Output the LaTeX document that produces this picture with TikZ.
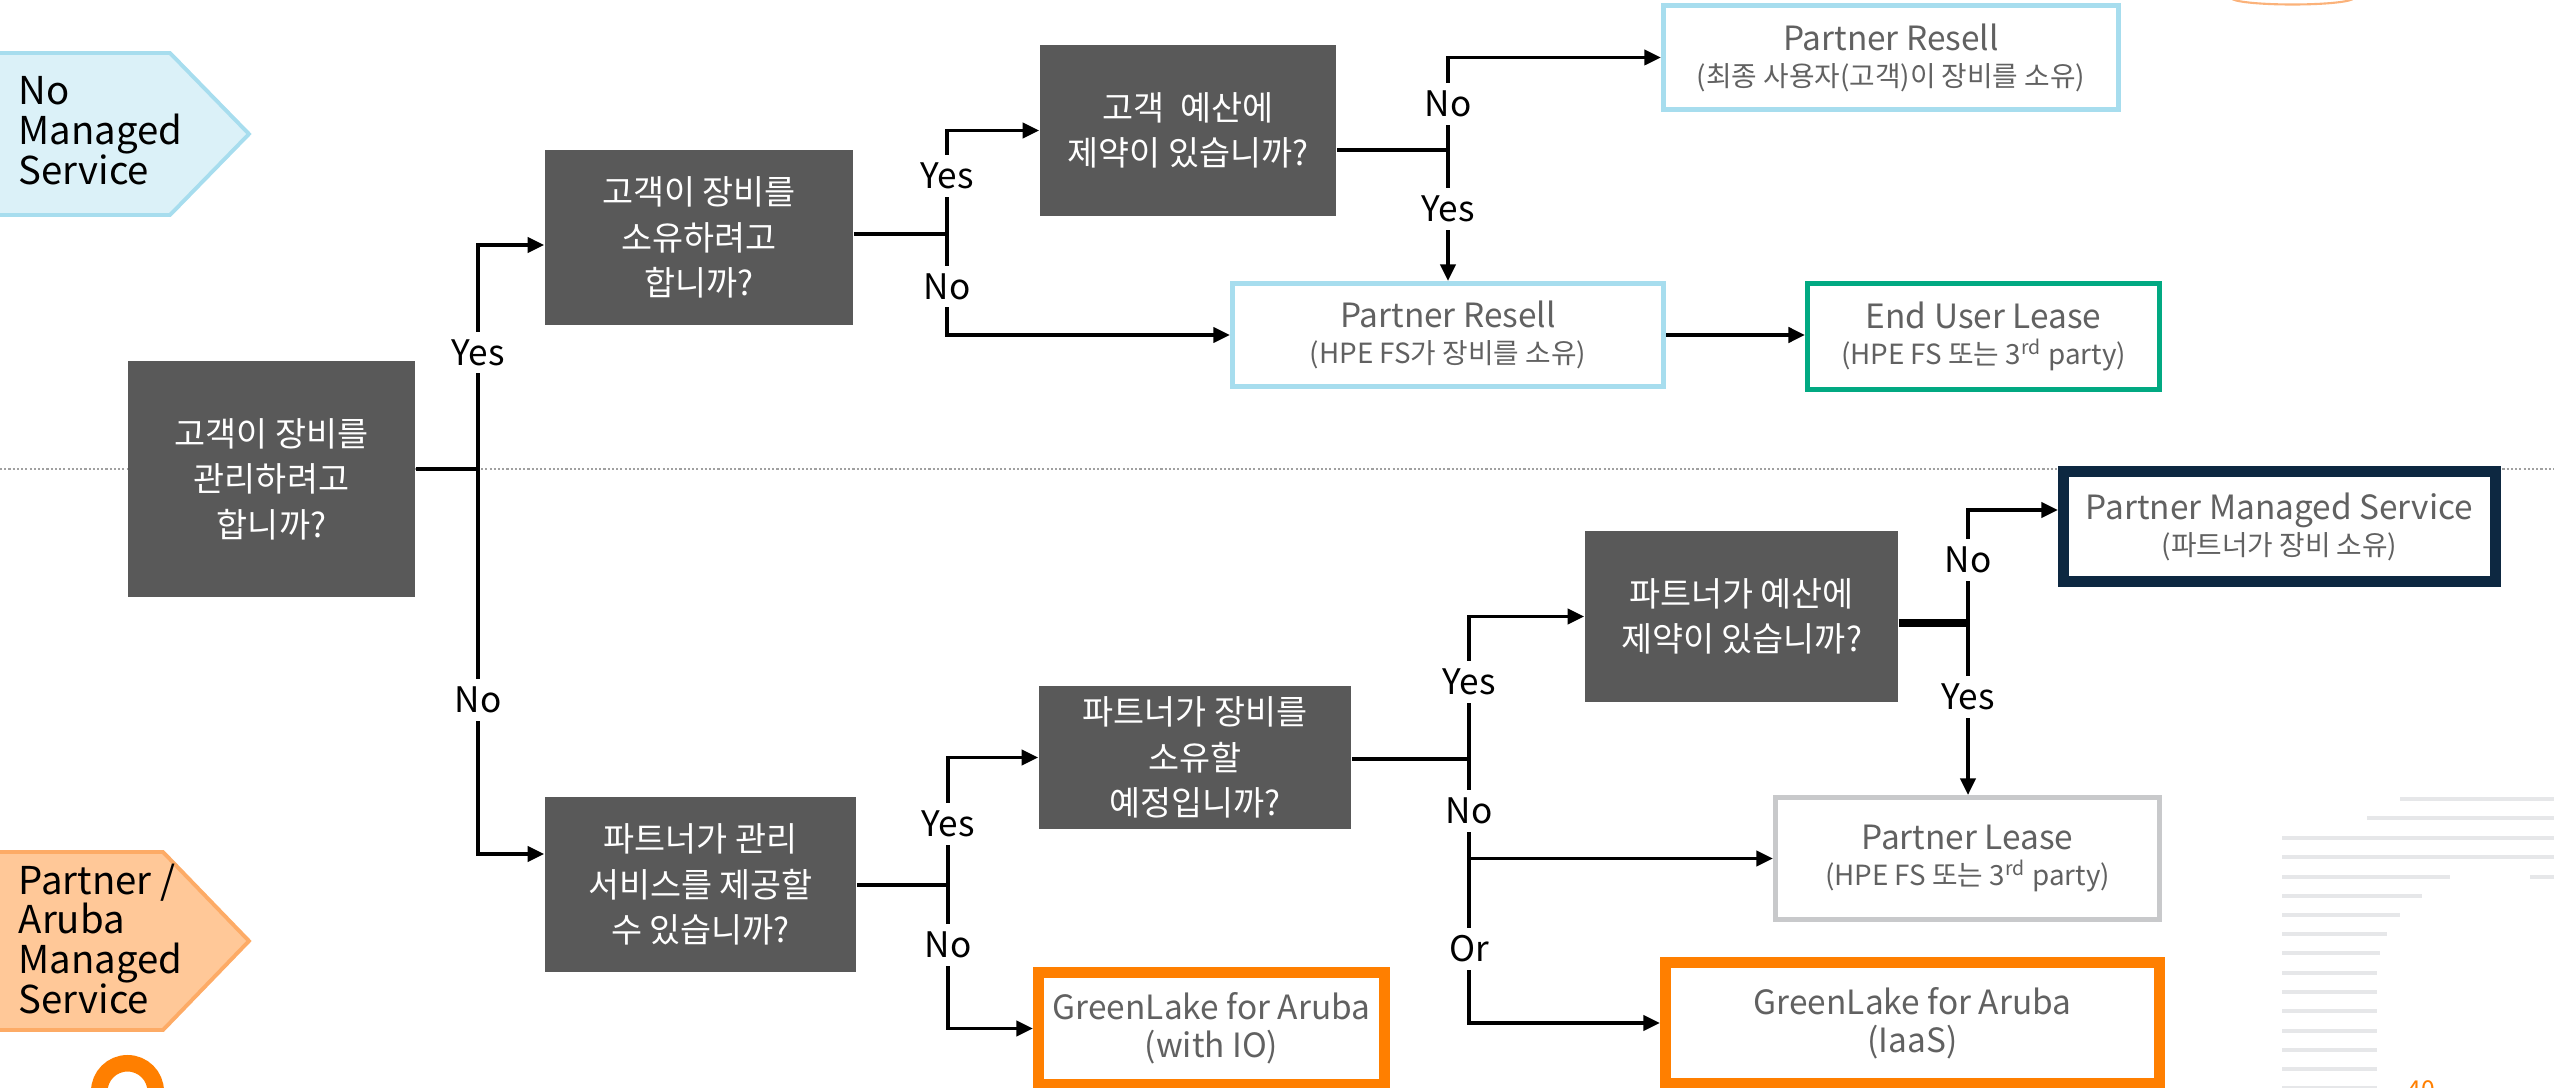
\documentclass[tikz,border=0pt]{standalone}
\usepackage{fontspec}
\setmainfont{Noto Sans CJK KR}
\usepackage{xcolor}
\usepackage{tikz}
\usetikzlibrary{arrows.meta,positioning}

\definecolor{qgray}{HTML}{595959}
\definecolor{resgray}{HTML}{616161}
\definecolor{skyline}{HTML}{A7DDEE}
\definecolor{skyfill}{HTML}{DBF1F8}
\definecolor{hpegreen}{HTML}{01A982}
\definecolor{hpenavy}{HTML}{0D2841}
\definecolor{lightline}{HTML}{C8C9CB}
\definecolor{hpeorange}{HTML}{FF7F00}
\definecolor{peachfill}{HTML}{FFC898}
\definecolor{peachline}{HTML}{FDAB66}
\definecolor{stripegray}{HTML}{E6E7E9}
\definecolor{dotgray}{HTML}{A0A0A0}
\definecolor{arcorange}{HTML}{FBB27A}

\newcommand{\subline}[1]{{\fontsize{7.9}{10.2}\selectfont #1}}
\newcommand{\tagfont}{\fontsize{10.9}{11.3}\selectfont\lineskiplimit=-6pt\relax}

\begin{document}
\begin{tikzpicture}[
    x=0.01cm, y=-0.01cm,
    question/.style={rectangle, fill=qgray, text=white, align=center, inner sep=0pt, font=\fontsize{9.6}{12.9}\selectfont},
    result/.style={rectangle, draw=#1, line width=1.56pt, fill=white, text=resgray, align=center, inner sep=0pt, font=\fontsize{9.5}{10.2}\selectfont},
    heavy/.style={line width=3.1pt, font=\fontsize{9.5}{10.8}\selectfont},
    answer/.style={fill=white, inner sep=2.2pt, font=\fontsize{10}{11}\selectfont},
    flow/.style={-{Triangle[length=4.7pt,width=4.3pt]}, line width=0.95pt},
    stem/.style={line width=1.35pt},
    tagtext/.style={anchor=north west, align=left, inner sep=0pt, font=\tagfont},
    stripe/.style={stripegray, line width=1.3pt}
]
    \useasboundingbox (0,0) rectangle (2554,1088);
    \clip (0,0) rectangle (2554,1088);

    \foreach \yy/\xa/\xb in {799/2400/2560, 818/2367/2560, 838/2282/2560, 857/2282/2560, 877/2282/2450, 877/2530/2560, 896/2282/2422, 915/2282/2400, 934/2282/2387, 953/2282/2380, 973/2282/2377, 992/2282/2377, 1011/2282/2377, 1031/2282/2377, 1050/2282/2377, 1069/2282/2377, 1088/2282/2377}
        \draw[stripe] (\xa,\yy) -- (\xb,\yy);
    \draw[hpeorange, line width=0.165cm] (127.5,1091.5) circle [radius=28.25];
    \draw[arcorange, line width=0.6pt] (2292.5,-2) ellipse [x radius=61, y radius=6.5];
    \node[anchor=base west, inner sep=0pt, text=hpeorange, font=\fontsize{7}{8}\selectfont] (pagenum) at (2407,1098) {40};

    \draw[dotgray, line width=0.6pt, dash pattern=on 0.6pt off 0.6pt] (0,469) -- (2554,469);

    \draw[fill=skyfill, draw=skyline, line width=1.1pt] (-5,53) -- (170,53) -- (249,134) -- (170,215) -- (-5,215) -- cycle;
    \node[tagtext] (tagnone) at (18,76) {No\\Managed\\Service};
    \draw[fill=peachfill, draw=peachline, line width=1.1pt] (-5,852) -- (163,852) -- (249,941) -- (163,1030) -- (-5,1030) -- cycle;
    \node[tagtext] (tagpartner) at (18,863) {Partner /\\Aruba\\Managed\\Service};

    \node[question, minimum width=2.87cm, minimum height=2.36cm] (q1) at (271.5,479) {고객이 장비를\\관리하려고\\합니까?};
    \node[question, minimum width=3.08cm, minimum height=1.75cm] (q2) at (699,237.5) {고객이 장비를\\소유하려고\\합니까?};
    \node[question, minimum width=2.96cm, minimum height=1.71cm] (q3) at (1188,130.5) {고객\ \ 예산에\\제약이 있습니까?};
    \node[question, minimum width=3.11cm, minimum height=1.75cm] (q4) at (700.5,884.5) {파트너가 관리\\서비스를 제공할\\수 있습니까?};
    \node[question, minimum width=3.12cm, minimum height=1.43cm] (q5) at (1195,757.5) {파트너가 장비를\\소유할\\예정입니까?};
    \node[question, minimum width=3.13cm, minimum height=1.71cm] (q6) at (1741.5,616.5) {파트너가 예산에\\제약이 있습니까?};

    \node[result=skyline, minimum width=4.545cm, minimum height=1.035cm] (r1) at (1891,57.5) {Partner Resell\\\subline{(최종 사용자(고객)이 장비를 소유)}};
    \node[result=skyline, minimum width=4.305cm, minimum height=1.025cm] (r2) at (1448,335) {Partner Resell\\\subline{(HPE FS가 장비를 소유)}};
    \node[result=hpegreen, minimum width=3.515cm, minimum height=1.055cm] (r3) at (1983.5,336.5) {End User Lease\\\subline{(HPE FS 또는 3\textsuperscript{rd} party)}};
    \node[result=hpenavy, line width=3.1pt, minimum width=4.32cm, minimum height=1.10cm] (r4) at (2279.5,526.5) {Partner Managed Service\\\subline{(파트너가 장비 소유)}};
    \node[result=lightline, minimum width=3.835cm, minimum height=1.215cm] (r5) at (1967.5,858.5) {Partner Lease\\\subline{(HPE FS 또는 3\textsuperscript{rd} party)}};
    \node[result=hpeorange, heavy, minimum width=3.46cm, minimum height=1.12cm] (r6) at (1211.5,1028.5) {GreenLake for Aruba\\(with IO)};
    \node[result=hpeorange, heavy, minimum width=4.94cm, minimum height=1.21cm] (r7) at (1912.5,1023) {GreenLake for Aruba\\(IaaS)};

    \coordinate (j1) at (478,469);
    \coordinate (j2) at (947,234);
    \coordinate (j3) at (1448,150);
    \coordinate (j4) at (948,885);
    \coordinate (j5) at (1469,759);
    \coordinate (j6) at (1968,623);

    \draw[stem] (q1.east |- j1) -- (j1);
    \draw[flow] (j1) |- ([yshift=-0.075cm]q2.west) node[answer, pos=0.26] (a1) {Yes};
    \draw[flow] (j1) |- ([yshift=0.305cm]q4.west) node[answer, pos=0.3] (a2) {No};

    \draw[stem] (q2.east |- j2) -- (j2);
    \draw[flow] (j2) |- (q3.west) node[answer, pos=0.28] (a3) {Yes};
    \draw[flow] (j2) |- (r2.west) node[answer, pos=0.26] (a4) {No};

    \draw[stem] (q3.east |- j3) -- (j3);
    \draw[flow] (j3) |- (r1.west) node[answer, pos=0.25] (a5) {No};
    \draw[flow] (j3) -- (j3 |- r2.north) node[answer, pos=0.45] (a6) {Yes};

    \draw[flow, line width=1.15pt] (r2.east) -- (r2.east -| r3.west);

    \draw[stem] (q4.east |- j4) -- (j4);
    \draw[flow] (j4) |- (q5.west) node[answer, pos=0.24] (a7) {Yes};
    \draw[flow] (j4) |- (r6.west) node[answer, pos=0.21] (a8) {No};

    \draw[line width=1pt] (q5.east |- j5) -- (j5);
    \draw[flow] (j5) |- (q6.west) node[answer, pos=0.27] (a9) {Yes};
    \draw[flow] (j5) |- (r7.west) node[answer, pos=0.36] (a10) {Or};
    \draw[flow] (j5) |- (r5.west) node[answer, pos=0.26] (a11) {No};

    \draw[line width=2pt] (q6.east |- j6) -- (j6);
    \draw[flow] (j6) |- ([yshift=0.165cm]r4.west) node[answer, pos=0.28] (a12) {No};
    \draw[flow] (j6) -- (j6 |- r5.north) node[answer, pos=0.43] (a13) {Yes};
\end{tikzpicture}
\end{document}
